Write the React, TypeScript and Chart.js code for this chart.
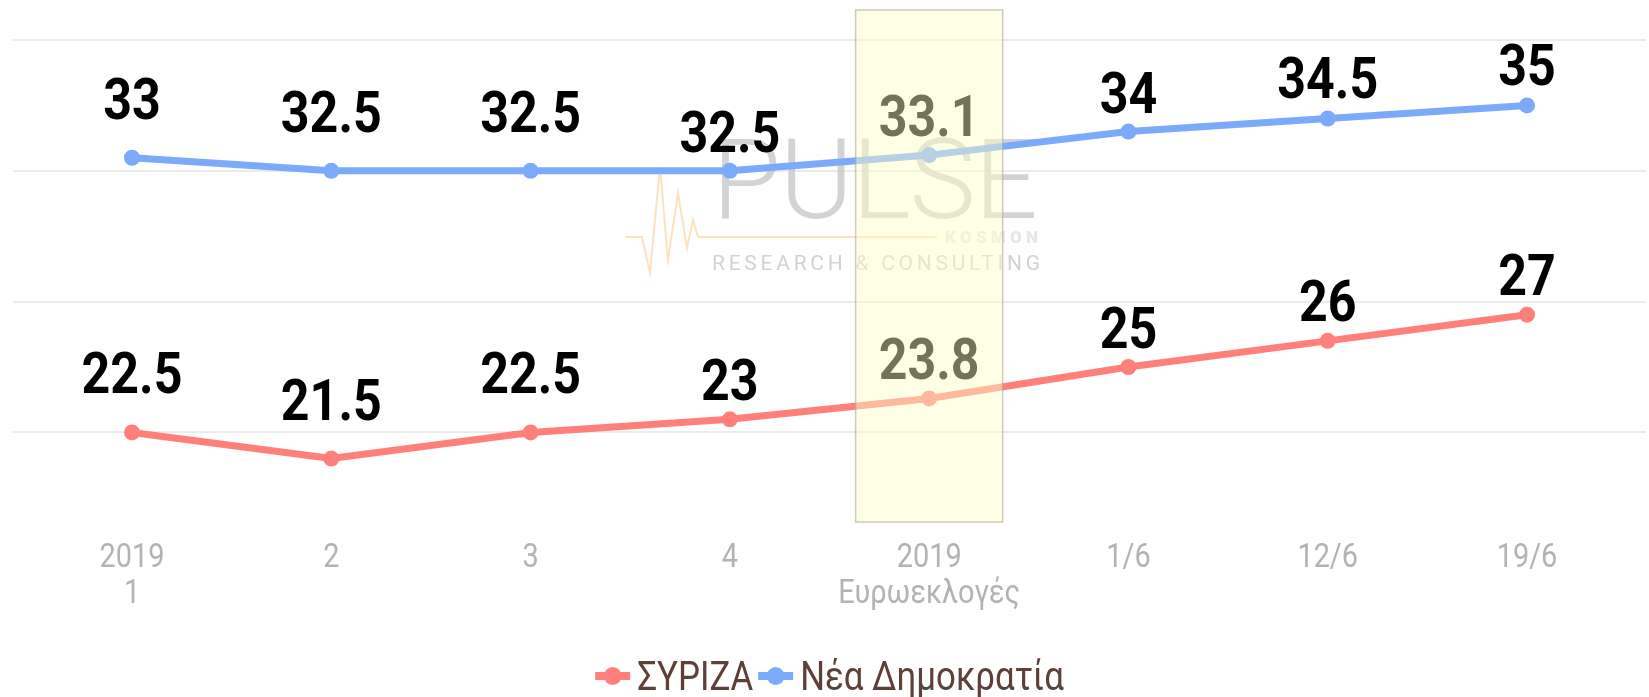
import React, { useEffect, useRef } from "react";
import { Chart, registerables } from "chart.js";

Chart.register(...registerables);

// ---- data ----
const CATEGORIES: (string | string[])[] = [["2019", "1"], "2", "3", "4", ["2019", "Ευρωεκλογές"], "1/6", "12/6", "19/6"];
const SYRIZA = [22.5, 21.5, 22.5, 23, 23.8, 25, 26, 27];
const ND = [33, 32.5, 32.5, 32.5, 33.1, 34, 34.5, 35];
const SERIES_NAMES = ["ΣΥΡΙΖΑ", "Νέα Δημοκρατία"];
const GRID_VALUES = [22.5, 27.5, 32.5, 37.5];
const HIGHLIGHT_INDEX = 4;

// ---- style ----
const RED = "#ff807a";
const BLUE = "#7caafa";
const LABEL_LIFT = [59, 59, 59, 39, 39, 39, 40, 40];
const W = 1649;
const H = 697;

const gridAndWatermark = {
  id: "gridAndWatermark",
  beforeDatasetsDraw(chart: any) {
    const ctx = chart.ctx;
    const y = chart.scales.y;
    ctx.save();
    ctx.strokeStyle = "#ebebeb";
    ctx.lineWidth = 2;
    GRID_VALUES.forEach((v) => {
      const py = Math.round(y.getPixelForValue(v));
      ctx.beginPath();
      ctx.moveTo(13, py);
      ctx.lineTo(1646, py);
      ctx.stroke();
    });
    // watermark
    ctx.fillStyle = "rgba(200,200,200,0.8)";
    ctx.font = "300 112px Roboto";
    ctx.textBaseline = "alphabetic";
    ctx.textAlign = "left";
    (ctx as any).letterSpacing = "0px";
    let w = ctx.measureText("PULSE").width;
    (ctx as any).letterSpacing = (326 - w) / 4 + "px";
    ctx.fillText("PULSE", 712, 218);
    ctx.fillStyle = "rgba(205,205,205,0.9)";
    ctx.font = "400 21px Roboto";
    (ctx as any).letterSpacing = "0px";
    w = ctx.measureText("RESEARCH & CONSULTING").width;
    (ctx as any).letterSpacing = (328 - w) / 20 + "px";
    ctx.fillText("RESEARCH & CONSULTING", 712, 270);
    ctx.fillStyle = "rgba(228,228,228,0.9)";
    ctx.font = "900 17px Roboto";
    (ctx as any).letterSpacing = "0px";
    w = ctx.measureText("KOSMON").width;
    (ctx as any).letterSpacing = (93 - w) / 5 + "px";
    ctx.fillText("KOSMON", 945, 243);
    (ctx as any).letterSpacing = "0px";
    ctx.strokeStyle = "rgba(253,222,185,0.9)";
    ctx.lineWidth = 2;
    ctx.beginPath();
    const pts = [[625, 237], [642, 237], [650, 273], [660, 167], [668, 260], [678, 193], [687, 248], [693, 220], [698, 237], [937, 237]];
    pts.forEach(([px, py], i) => (i === 0 ? ctx.moveTo(px, py) : ctx.lineTo(px, py)));
    ctx.stroke();
    ctx.restore();
  },
};

const valueLabels = {
  id: "valueLabels",
  afterDatasetsDraw(chart: any) {
    const ctx = chart.ctx;
    ctx.save();
    ctx.fillStyle = "#000";
    ctx.font = "700 57px Roboto";
    ctx.textAlign = "center";
    ctx.textBaseline = "alphabetic";
    chart.data.datasets.forEach((ds: any, di: number) => {
      const meta = chart.getDatasetMeta(di);
      meta.data.forEach((pt: any, i: number) => {
        const cy = pt.y - LABEL_LIFT[i];
        ctx.save();
        ctx.translate(pt.x, cy + 20);
        ctx.scale(0.88, 1);
        ctx.fillText(String(ds.data[i]), 0, 0);
        ctx.restore();
      });
    });
    ctx.restore();
  },
};

const xTickLabels = {
  id: "xTickLabels",
  afterDraw(chart: any) {
    const ctx = chart.ctx;
    const xs = chart.scales.x;
    const area = chart.chartArea;
    ctx.save();
    ctx.fillStyle = "#b3b3b3";
    ctx.font = "400 34px Roboto";
    ctx.textAlign = "center";
    ctx.textBaseline = "alphabetic";
    CATEGORIES.forEach((lab, i) => {
      const lines = Array.isArray(lab) ? lab : [lab];
      const px = xs.getPixelForTick(i);
      lines.forEach((t, li) => {
        const cy = area.bottom + 31 + li * 36;
        ctx.save();
        ctx.translate(px, cy + 12);
        ctx.scale(0.85, 1);
        ctx.fillText(t, 0, 0);
        ctx.restore();
      });
    });
    ctx.restore();
  },
};

const legendAndBox = {
  id: "legendAndBox",
  afterDraw(chart: any) {
    const ctx = chart.ctx;
    const area = chart.chartArea;
    // legend
    ctx.save();
    ctx.font = "400 40px Roboto";
    ctx.textBaseline = "alphabetic";
    ctx.textAlign = "left";
    const sx = 0.87;
    const colors = [RED, BLUE];
    const markerW = 35;
    const gapAfterMarker = 7;
    const gapAfterText = 5;
    const widths = SERIES_NAMES.map((n) => ctx.measureText(n).width * sx);
    const total = widths.reduce((a, b) => a + b, 0) + SERIES_NAMES.length * (markerW + gapAfterMarker) + gapAfterText;
    let x = (area.left + area.right) / 2 - total / 2;
    const cy = 676;
    SERIES_NAMES.forEach((name, i) => {
      ctx.strokeStyle = colors[i];
      ctx.fillStyle = colors[i];
      ctx.lineWidth = 8;
      ctx.beginPath();
      ctx.moveTo(x, cy);
      ctx.lineTo(x + markerW, cy);
      ctx.stroke();
      ctx.beginPath();
      ctx.arc(x + markerW / 2, cy, 9, 0, Math.PI * 2);
      ctx.fill();
      x += markerW + gapAfterMarker;
      ctx.fillStyle = "#5d4037";
      ctx.save();
      ctx.translate(x, cy + 14);
      ctx.scale(sx, 1);
      ctx.fillText(name, 0, 0);
      ctx.restore();
      x += widths[i] + gapAfterText;
    });
    ctx.restore();
    // highlight box
    const xs = chart.scales.x;
    const cx = xs.getPixelForValue(HIGHLIGHT_INDEX);
    const bw = 147;
    const top = 10;
    const bottom = area.bottom - 2;
    ctx.save();
    ctx.fillStyle = "rgba(255,255,200,0.45)";
    ctx.fillRect(cx - bw / 2, top, bw, bottom - top);
    ctx.strokeStyle = "rgba(170,170,150,0.6)";
    ctx.lineWidth = 1.5;
    ctx.strokeRect(cx - bw / 2, top, bw, bottom - top);
    ctx.restore();
  },
};

export default function App() {
  const ref = useRef<HTMLCanvasElement | null>(null);
  useEffect(() => {
    if (!ref.current) return;
    const chart = new Chart(ref.current, {
      type: "line",
      data: {
        labels: CATEGORIES as any,
        datasets: [
          {
            label: SERIES_NAMES[0],
            data: SYRIZA,
            borderColor: RED,
            backgroundColor: RED,
            pointBackgroundColor: RED,
            pointBorderColor: RED,
            borderWidth: 7,
            pointRadius: 8,
            pointBorderWidth: 0,
            tension: 0,
          },
          {
            label: SERIES_NAMES[1],
            data: ND,
            borderColor: BLUE,
            backgroundColor: BLUE,
            pointBackgroundColor: BLUE,
            pointBorderColor: BLUE,
            borderWidth: 7,
            pointRadius: 8,
            pointBorderWidth: 0,
            tension: 0,
          },
        ],
      },
      options: {
        responsive: false,
        animation: false,
        layout: { padding: { left: 132, right: 122, top: 40, bottom: 88 } },
        plugins: { legend: { display: false }, tooltip: { enabled: false } },
        scales: {
          x: {
            offset: false,
            grid: { display: false },
            border: { display: false },
            ticks: { display: false, autoSkip: false, maxRotation: 0 },
            afterFit: (s: any) => {
              s.height = 85;
            },
          },
          y: {
            display: false,
            min: 19,
            max: 37.5,
          },
        },
      },
      plugins: [gridAndWatermark, valueLabels, xTickLabels, legendAndBox],
    });
    return () => chart.destroy();
  }, []);
  return (
    <div style={{ position: "absolute", left: 0, top: 0, width: W, height: H, background: "#fff" }}>
      <canvas ref={ref} width={W} height={H} style={{ display: "block" }} />
    </div>
  );
}
